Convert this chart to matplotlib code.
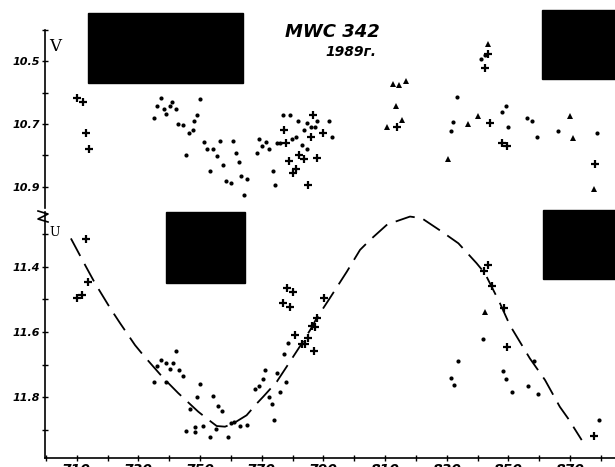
import matplotlib
matplotlib.use('Agg')
import matplotlib.pyplot as plt
from matplotlib.patches import Rectangle
from matplotlib.lines import Line2D
from matplotlib.ticker import MultipleLocator

# JD 2447000+ ; звёздные величины V и U
v_dot_jd = [735.1, 736.1, 737.3, 738.2, 739.0, 740.2, 741.0, 742.2, 743.0, 744.4,
            745.4, 746.3, 747.6, 748.1, 749.1, 750.0, 751.3, 752.3, 753.3, 754.3,
            755.4, 756.5, 757.3, 758.4, 759.9, 760.8, 761.7, 762.5, 763.4, 764.3,
            765.2, 768.4, 769.2, 770.2, 771.4, 772.5, 773.6, 774.3, 774.9, 775.9,
            777.0, 779.2, 779.9, 781.1, 781.9, 783.0, 783.7, 784.6, 784.8, 785.9,
            787.3, 788.0, 791.8, 792.9, 841.1, 842.4, 833.4, 832.1, 831.4, 847.8,
            849.1, 850.0, 855.9, 857.7, 859.2, 866.0, 878.8]
v_dot_mag = [10.681, 10.641, 10.618, 10.652, 10.668, 10.643, 10.629, 10.652, 10.701, 10.703,
             10.798, 10.730, 10.719, 10.690, 10.670, 10.621, 10.757, 10.779, 10.849, 10.781,
             10.803, 10.755, 10.831, 10.881, 10.887, 10.755, 10.792, 10.822, 10.865, 10.925,
             10.876, 10.792, 10.748, 10.771, 10.757, 10.779, 10.849, 10.895, 10.762, 10.759,
             10.672, 10.670, 10.748, 10.741, 10.689, 10.768, 10.719, 10.697, 10.779, 10.708,
             10.708, 10.689, 10.689, 10.741, 10.494, 10.481, 10.614, 10.692, 10.721, 10.663,
             10.643, 10.710, 10.681, 10.689, 10.741, 10.721, 10.730]

v_cross_jd = [710.2, 711.9, 712.9, 714.1, 777.2, 777.9, 778.9, 780.0, 781.0, 782.2,
              783.8, 785.9, 786.5, 787.8, 785.1, 790.0, 813.8, 843.5, 842.4, 844.1,
              847.8, 849.5, 878.0]
v_cross_mag = [10.618, 10.629, 10.730, 10.780, 10.719, 10.759, 10.819, 10.856, 10.843, 10.798,
               10.811, 10.741, 10.670, 10.809, 10.895, 10.730, 10.710, 10.475, 10.522, 10.697,
               10.762, 10.771, 10.829]

v_tri_jd = [812.5, 814.6, 816.8, 813.5, 810.7, 815.6, 843.3, 830.5, 837.0, 840.2,
            870.0, 870.9, 877.9]
v_tri_mag = [10.571, 10.576, 10.562, 10.641, 10.710, 10.686, 10.446, 10.811, 10.700, 10.673,
             10.673, 10.746, 10.908]

u_dot_jd = [735.2, 736.1, 737.3, 738.9, 739.1, 740.3, 741.1, 742.2, 743.2, 744.4,
            746.7, 748.9, 750.0, 754.1, 755.9, 757.2, 745.3, 748.3, 748.3, 750.9,
            753.2, 755.1, 759.1, 759.9, 761.0, 763.0, 765.2, 767.8, 769.2, 770.3,
            771.1, 772.5, 773.2, 774.1, 775.0, 775.9, 777.9, 777.3, 778.6, 841.7,
            833.8, 831.4, 832.5, 848.3, 849.2, 851.3, 856.5, 858.4, 859.5, 879.4]
u_dot_mag = [11.752, 11.704, 11.686, 11.696, 11.752, 11.714, 11.696, 11.658, 11.717, 11.734,
             11.837, 11.800, 11.760, 11.796, 11.827, 11.842, 11.902, 11.891, 11.906, 11.889,
             11.922, 11.896, 11.922, 11.878, 11.876, 11.888, 11.884, 11.773, 11.766, 11.745,
             11.717, 11.798, 11.819, 11.870, 11.727, 11.783, 11.754, 11.668, 11.633, 11.622,
             11.688, 11.742, 11.763, 11.719, 11.744, 11.785, 11.765, 11.688, 11.791, 11.870]

u_cross_jd = [713.0, 713.8, 710.2, 711.6, 778.1, 780.0, 777.0, 779.2, 780.8, 783.0,
              784.0, 785.1, 786.2, 787.3, 787.0, 787.8, 790.2, 843.5, 842.2, 844.6,
              848.6, 849.5, 877.9]
u_cross_mag = [11.316, 11.446, 11.497, 11.487, 11.466, 11.476, 11.512, 11.524, 11.609, 11.638,
               11.638, 11.619, 11.582, 11.584, 11.657, 11.558, 11.495, 11.394, 11.413, 11.458,
               11.527, 11.645, 11.918]

u_tri_jd = [842.4]
u_tri_mag = [11.538]

# штриховая кривая
curve_jd = [708.1, 712.9, 715.9, 720.8, 724.0, 728.9, 731.6, 738.1, 742.9, 749.4,
            752.2, 755.4, 758.1, 760.8, 765.1, 768.4, 770.5, 774.9, 778.1, 783.0,
            785.7, 787.8, 792.1, 795.9, 797.6, 801.9, 805.1, 810.5, 813.2, 818.1,
            821.9, 828.4, 833.8, 839.7, 842.4, 847.3, 850.5, 857.0, 861.9, 866.7,
            869.4, 873.8]
curve_mag = [11.313, 11.398, 11.450, 11.526, 11.572, 11.640, 11.671, 11.741, 11.787, 11.844,
             11.865, 11.888, 11.890, 11.880, 11.855, 11.819, 11.798, 11.752, 11.706, 11.635,
             11.594, 11.558, 11.496, 11.440, 11.415, 11.348, 11.318, 11.272, 11.262, 11.246,
             11.251, 11.292, 11.328, 11.389, 11.420, 11.512, 11.579, 11.681, 11.747, 11.829,
             11.865, 11.931]

x_ticks = [710, 730, 750, 770, 790, 810, 830, 850, 870]

W, H = 615, 467
fig = plt.figure(figsize=(6.15, 4.67), dpi=100)

def fy(py):
    return 1 - py / H

ax_v = fig.add_axes([45 / W, fy(208), 1 - 45 / W, (208 - 30) / H])
ax_u = fig.add_axes([45 / W, fy(458), 1 - 45 / W, (458 - 212) / H])
ax_u.patch.set_alpha(0)

xmin, xmax = 699.7, 884.6
tick_font = dict(fontsize=8, fontstyle='italic', fontweight='bold')

for ax in (ax_v, ax_u):
    ax.set_xlim(xmin, xmax)
    ax.spines['top'].set_visible(False)
    ax.spines['right'].set_visible(False)
    ax.spines['left'].set_linewidth(1.2)
    ax.tick_params(axis='y', which='both', direction='inout', length=5, width=1, pad=1)
    ax.yaxis.set_minor_locator(MultipleLocator(0.1))
    ax.yaxis.set_major_locator(MultipleLocator(0.2))

ms_dot, ms_cross, ms_tri = 3, 6, 5

# V
ax_v.plot(v_dot_jd, v_dot_mag, 'o', color='black', ms=ms_dot, mew=0)
ax_v.plot(v_cross_jd, v_cross_mag, '+', color='black', ms=ms_cross, mew=1.6)
ax_v.plot(v_tri_jd, v_tri_mag, '^', color='black', ms=ms_tri, mew=0)
ax_v.set_ylim(10.968, 10.4)
ax_v.set_yticks([10.5, 10.7, 10.9])
ax_v.set_yticklabels(['10.5', '10.7', '10.9'], **tick_font)
ax_v.spines['bottom'].set_visible(False)
ax_v.set_xticks([])

# U
ax_u.plot(curve_jd, curve_mag, color='black', lw=1.3, dashes=(11, 5),
          dash_capstyle='butt', clip_on=False)
ax_u.plot(u_dot_jd, u_dot_mag, 'o', color='black', ms=ms_dot, mew=0)
ax_u.plot(u_cross_jd, u_cross_mag, '+', color='black', ms=ms_cross, mew=1.6)
ax_u.plot(u_tri_jd, u_tri_mag, '^', color='black', ms=ms_tri, mew=0)
ax_u.set_ylim(11.986, 11.232)
ax_u.set_yticks([11.4, 11.6, 11.8])
ax_u.set_yticklabels(['11.4', '11.6', '11.8'], **tick_font)
ax_u.spines['bottom'].set_linewidth(1.2)
ax_u.set_xticks(x_ticks)
ax_u.set_xticklabels([str(t) for t in x_ticks], **{**tick_font, 'fontsize': 10})
ax_u.xaxis.set_minor_locator(MultipleLocator(10))
ax_u.tick_params(axis='x', which='both', direction='inout', length=5, width=1, pad=1)

# подписи
fig.text(49 / W, fy(51), 'V', fontsize=12, family='DejaVu Serif')
fig.text(49 / W, fy(236), 'U', fontsize=9, family='DejaVu Serif')
fig.text(285 / W, fy(37), 'MWC 342', fontsize=13, fontstyle='italic', fontweight='bold')
fig.text(325 / W, fy(56), '1989г.', fontsize=10, fontstyle='italic', fontweight='bold')

# разрыв оси
zx = [x / W for x in [38, 48, 38, 48]]
zy = [fy(y) for y in [211, 214, 219, 222]]
fig.add_artist(Line2D(zx, zy, color='black', lw=1.2))

# закрашенные прямоугольники
for x0, y0, x1, y1 in [(88, 13, 243, 83), (542, 10, 615, 79),
                       (166, 212, 245, 283), (543, 210, 615, 279)]:
    fig.add_artist(Rectangle((x0 / W, fy(y1)), (x1 - x0) / W, (y1 - y0) / H,
                             transform=fig.transFigure, color='black', zorder=10))

fig.savefig('out.png', dpi=100)
